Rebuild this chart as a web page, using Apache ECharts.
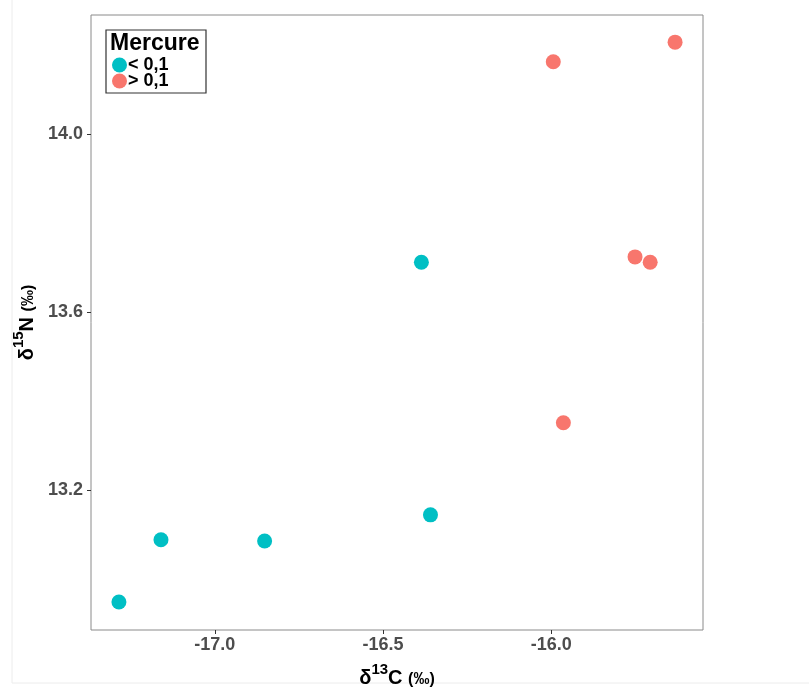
<!DOCTYPE html>
<html>
<head>
<meta charset="utf-8">
<script src="https://cdn.jsdelivr.net/npm/echarts@6/dist/echarts.min.js"></script>
<style>
html,body{margin:0;padding:0;background:#fff;}
#chart{width:809px;height:689px;}
</style>
</head>
<body>
<div id="chart"></div>
<script>
const seriesNames = ['< 0,1', '> 0,1'];
const lowX = [-17.285, -17.160, -16.852, -16.386, -16.359];
const lowY = [12.948, 13.088, 13.085, 13.712, 13.144];
const highX = [-15.994, -15.964, -15.751, -15.706, -15.632];
const highY = [14.163, 13.351, 13.724, 13.712, 14.207];
const xTicks = [-17.0, -16.5, -16.0];
const yTicks = [13.2, 13.6, 14.0];
const legendTitle = 'Mercure';

const pair = (xs, ys) => xs.map((x, i) => [x, ys[i]]);

const chart = echarts.init(document.getElementById('chart'), null, {renderer: 'canvas'});
const font = '"Liberation Sans", Arial, sans-serif';
const nameRich = {
  d: {fontFamily: font, fontSize: 20, fontWeight: 'bold', color: '#000', verticalAlign: 'bottom', lineHeight: 26},
  s: {fontFamily: font, fontSize: 15, fontWeight: 'bold', color: '#000', verticalAlign: 'top', lineHeight: 26},
  p: {fontFamily: font, fontSize: 16, fontWeight: 'bold', color: '#000', verticalAlign: 'bottom', lineHeight: 26}
};
chart.setOption({
  animation: false,
  backgroundColor: '#fff',
  grid: {left: 91, right: 106, top: 15, bottom: 59, outerBoundsMode: 'none', containLabel: false, show: true, borderColor: '#8a8a8a', borderWidth: 1, backgroundColor: 'transparent'},
  xAxis: {
    type: 'value', min: -17.368, max: -15.549,
    axisLine: {show: false},
    splitLine: {show: false},
    axisTick: {show: true, length: 4, lineStyle: {color: '#333'}, customValues: xTicks},
    axisLabel: {customValues: xTicks, formatter: v => v.toFixed(1), color: '#4d4d4d', fontFamily: font, fontSize: 18, fontWeight: 'bold', margin: 6},
    name: '{d|δ}{s|13}{d|C }{p|(‰)}',
    nameLocation: 'middle', nameGap: 32,
    nameTextStyle: {rich: nameRich}
  },
  yAxis: {
    type: 'value', min: 12.885, max: 14.268,
    axisLine: {show: false},
    splitLine: {show: false},
    axisTick: {show: true, length: 4, lineStyle: {color: '#333'}, customValues: yTicks},
    axisLabel: {customValues: yTicks, formatter: v => v.toFixed(1), color: '#4d4d4d', fontFamily: font, fontSize: 18, fontWeight: 'bold', margin: 8},
    name: '{d|δ}{s|15}{d|N }{p|(‰)}',
    nameLocation: 'middle', nameGap: 52, nameRotate: 90,
    nameTextStyle: {rich: nameRich}
  },
  legend: {
    data: seriesNames, orient: 'vertical', left: 107, top: 51, z: 10,
    icon: 'circle', itemWidth: 15, itemHeight: 15, itemGap: -2,
    textStyle: {fontFamily: font, fontSize: 18, fontWeight: 'bold', color: '#000', padding: [0, 0, 0, -4]}
  },
  graphic: [
    {type: 'rect', z: 1, shape: {x: 106, y: 30, width: 100, height: 63}, style: {fill: '#fff', stroke: '#333', lineWidth: 1.2}},
    {type: 'text', z: 2, x: 110, y: 32, style: {text: legendTitle, fontFamily: font, fontSize: 23, fontWeight: 'bold', fill: '#000'}},
    {type: 'rect', z: 0, silent: true, shape: {x: 12, y: -5, width: 820, height: 688}, style: {fill: 'none', stroke: '#ececec', lineWidth: 1}}
  ],
  series: [
    {name: seriesNames[0], type: 'scatter', symbolSize: 15, itemStyle: {color: '#00BFC4', opacity: 1}, data: pair(lowX, lowY)},
    {name: seriesNames[1], type: 'scatter', symbolSize: 15, itemStyle: {color: '#F8766D', opacity: 1}, data: pair(highX, highY)}
  ]
});
</script>
</body>
</html>
